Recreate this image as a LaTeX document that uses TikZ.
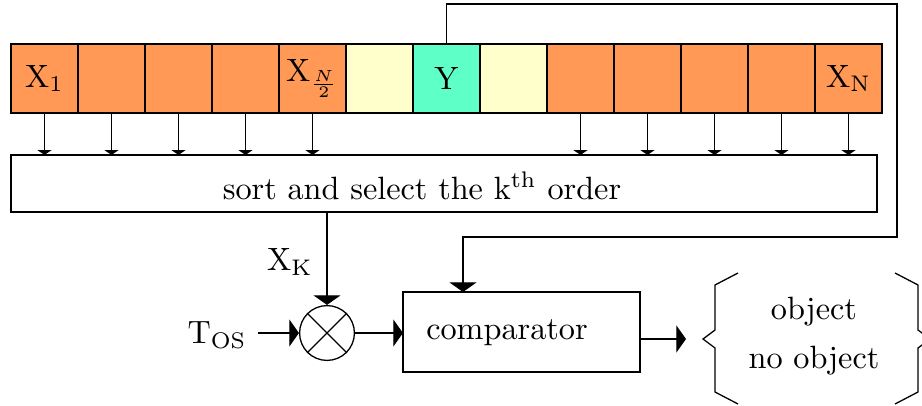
\documentclass[tikz,border=0pt]{standalone}
\usepackage{amsmath}
\usetikzlibrary{arrows.meta,positioning}

\definecolor{cellorange}{RGB}{255,153,85}
\definecolor{cellyellow}{RGB}{255,255,204}
\definecolor{cellgreen}{RGB}{95,255,200}

\begin{document}
\begin{tikzpicture}[x=0.31pt,y=-0.31pt,
    cell/.style={draw,minimum width=20.77pt,minimum height=21.4pt,inner sep=0pt,outer sep=0pt},
    block/.style={draw,rectangle,inner sep=0pt,outer sep=0pt},
    tosort/.style={-{Triangle[length=1.5pt,width=4.3pt]}},
    bigarrow/.style={-{Triangle[length=3pt,width=8.4pt]}}]

    %\draw [help lines] (0,0) grid (922,405);
    \useasboundingbox (0,0) rectangle (922,405);

    % the row of samples
    \foreach \i/\c/\t in {0/cellorange/{$\mathrm{X_1}$},1/cellorange/{},2/cellorange/{},
                          3/cellorange/{},4/cellorange/{$\mathrm{X}_{\frac{N}{2}}$},
                          5/cellyellow/{},6/cellgreen/{Y},7/cellyellow/{},
                          8/cellorange/{},9/cellorange/{},10/cellorange/{},11/cellorange/{},
                          12/cellorange/{$\mathrm{X_N}$}}
        \node[cell,fill=\c] (c\i) at ({11+67*(\i+0.5)},78.5) {\t};

    \node[block,minimum width=268.5pt,minimum height=17.7pt] (sort) at (444,183.5) {};
    \node (sorttext) at (422,186) {sort and select the k\textsuperscript{th} order};

    \foreach \i in {0,1,2,3,4,8,9,10,11,12}
        \draw[tosort] (c\i.south) -- (c\i.south |- sort.north);

    % mixing the k-th value with the threshold
    \node[draw,circle,minimum size=17pt,inner sep=0pt] (mix) at (327,333) {};
    \draw (mix.north west) -- (mix.south east);
    \draw (mix.north east) -- (mix.south west);

    \node (xk) at (290,262) {$\mathrm{X_K}$};
    \node (tos) at (217,335) {$\mathrm{T_{OS}}$};

    \draw[bigarrow] (sort.south -| mix) -- (mix.north);
    \draw[bigarrow] (tos.east |- mix) -- (mix.west);

    \node[block,minimum width=73.5pt,minimum height=24.8pt] (comp) at (521.5,332) {};
    \node (comptext) at (507,333) {comparator};
    \draw[bigarrow] (mix.east) -- (mix.east -| comp.west);

    % Y goes round to the comparator
    \coordinate (topright) at (897,4);
    \coordinate (loopcorner) at (463,237);
    \draw[bigarrow] (c6.north) |- (topright) |- (loopcorner) -- (loopcorner |- comp.north);

    % decision
    \coordinate (out) at (686,339);
    \draw[bigarrow] (comp.east |- out) -- (out);

    \node[align=center] (outcome) at (814,336) {object\\[3pt]no object};
    \draw (738,273) -- (715,285) -- (715,330) -- (703,339) -- (715,348) -- (715,392) -- (738,404);
    \draw (895,273) -- (918,285) -- (918,330) -- (930,339) -- (918,348) -- (918,392) -- (895,404);

\end{tikzpicture}
\end{document}
